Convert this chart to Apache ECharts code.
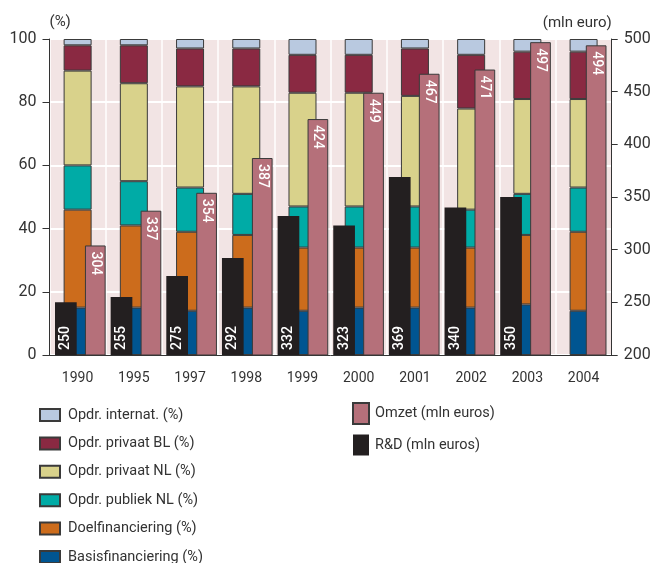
<!DOCTYPE html>
<html>
<head>
<meta charset="utf-8">
<script src="https://cdn.jsdelivr.net/npm/echarts@6/dist/echarts.min.js"></script>
<style>
  html, body { margin: 0; padding: 0; background: #ffffff; }
  #chart { width: 659px; height: 563px; }
</style>
</head>
<body>
<div id="chart"></div>
<script>
// Years on the category axis
var years = ['1990', '1995', '1997', '1998', '1999', '2000', '2001', '2002', '2003', '2004'];

// Funding shares (%), stacked from the bottom up
var basisfinanciering = [15, 15, 14, 15, 14, 15, 15, 15, 16, 14];
var doelfinanciering  = [31, 26, 25, 23, 20, 19, 19, 19, 22, 25];
var publiekNL         = [14, 14, 14, 13, 13, 13, 13, 12, 13, 14];
var privaatNL         = [30, 31, 32, 34, 36, 36, 35, 32, 30, 28];
var privaatBL         = [ 8, 12, 12, 12, 12, 12, 15, 17, 15, 15];
var internat          = [ 2,  2,  3,  3,  5,  5,  3,  5,  4,  4];

// Amounts in mln euro (right axis)
var omzet = [304, 337, 354, 387, 424, 449, 467, 471, 497, 494];
var rnd   = [250, 255, 275, 292, 332, 323, 369, 340, 350, null];

// Axis ticks
var pctTicks = { min: 0, max: 100, interval: 20 };
var euroTicks = { min: 200, max: 500, interval: 50 };

var FONT = 'Roboto';
var TEXT = '#333333';
var OUTLINE = '#3a3a3a';

function shareSeries(name, data, color) {
  return {
    name: name,
    type: 'bar',
    xAxisIndex: 0,
    yAxisIndex: 0,
    stack: 'share',
    barWidth: 28,
    data: data,
    itemStyle: { color: color, borderColor: OUTLINE, borderWidth: 1 }
  };
}

var chart = echarts.init(document.getElementById('chart'), null, { renderer: 'canvas' });

chart.setOption({
  animation: false,
  backgroundColor: '#ffffff',
  textStyle: { fontFamily: FONT },
  grid: [
    { left: 49.5, right: 47.3, top: 39, bottom: 208, show: true,
      backgroundColor: '#f2e4e4', borderWidth: 0, containLabel: false },
    { left: 52.5, right: 50, top: 39, bottom: 208, show: false, containLabel: false }
  ],
  xAxis: [
    {
      type: 'category', gridIndex: 0, data: years, boundaryGap: true,
      axisLine: { lineStyle: { color: TEXT, width: 1 } },
      axisTick: { show: false },
      axisLabel: { color: TEXT, fontSize: 14, margin: 16, fontFamily: FONT },
      splitLine: { show: true, lineStyle: { color: '#ffffff', width: 1.5 } }
    },
    {
      type: 'category', gridIndex: 1, data: years, boundaryGap: true, show: false
    }
  ],
  yAxis: [
    {
      type: 'value', gridIndex: 0, position: 'left',
      min: pctTicks.min, max: pctTicks.max, interval: pctTicks.interval,
      name: '(%)', nameLocation: 'end', nameGap: 17,
      nameTextStyle: { color: TEXT, fontSize: 15, align: 'left', verticalAlign: 'middle', fontFamily: FONT },
      axisLine: { show: true, lineStyle: { color: TEXT, width: 1 } },
      axisTick: { show: true, length: 7, lineStyle: { color: TEXT } },
      axisLabel: { color: TEXT, fontSize: 16, margin: 13, fontFamily: FONT },
      splitLine: { show: true, lineStyle: { color: '#ffffff', width: 2 } }
    },
    {
      type: 'value', gridIndex: 0, position: 'right',
      min: euroTicks.min, max: euroTicks.max, interval: euroTicks.interval,
      name: '(mln euro)', nameLocation: 'end', nameGap: 16,
      nameTextStyle: { color: TEXT, fontSize: 15, align: 'right', verticalAlign: 'middle', fontFamily: FONT },
      axisLine: { show: true, lineStyle: { color: TEXT, width: 1 } },
      axisTick: { show: true, length: 6, lineStyle: { color: TEXT } },
      axisLabel: { color: TEXT, fontSize: 16, margin: 12, fontFamily: FONT },
      splitLine: { show: false }
    },
    {
      type: 'value', gridIndex: 1,
      min: euroTicks.min, max: euroTicks.max, interval: euroTicks.interval,
      show: false, splitLine: { show: false }
    }
  ],
  legend: [
    {
      orient: 'vertical', left: 39, top: 407, height: 200, padding: 0,
      itemWidth: 20, itemHeight: 12, itemGap: 12.4,
      icon: 'rect', selectedMode: false,
      textStyle: { color: TEXT, fontSize: 14.5, lineHeight: 16, padding: [0, 0, 0, 3], fontFamily: FONT },
      data: ['Opdr. internat. (%)', 'Opdr. privaat BL (%)', 'Opdr. privaat NL (%)',
             'Opdr. publiek NL (%)', 'Doelfinanciering (%)', 'Basisfinanciering (%)']
    },
    {
      orient: 'vertical', left: 352, top: 402, height: 100, padding: 0,
      itemWidth: 16, itemHeight: 21, itemGap: 9.5,
      icon: 'rect', selectedMode: false,
      textStyle: { color: TEXT, fontSize: 14.5, lineHeight: 16, padding: [0, 0, 0, 1], fontFamily: FONT },
      data: ['Omzet (mln euros)', 'R&D (mln euros)']
    }
  ],
  series: [
    shareSeries('Basisfinanciering (%)', basisfinanciering, '#005591'),
    shareSeries('Doelfinanciering (%)', doelfinanciering, '#cc6c1c'),
    shareSeries('Opdr. publiek NL (%)', publiekNL, '#00aba6'),
    shareSeries('Opdr. privaat NL (%)', privaatNL, '#d9d28b'),
    shareSeries('Opdr. privaat BL (%)', privaatBL, '#8a2942'),
    shareSeries('Opdr. internat. (%)', internat, '#b9c9e0'),
    {
      name: 'R&D (mln euros)',
      type: 'bar', xAxisIndex: 1, yAxisIndex: 2,
      barWidth: 21.7,
      data: rnd,
      itemStyle: { color: '#231f20' },
      label: {
        show: true, position: 'insideBottom', distance: 5, rotate: 90,
        align: 'left', verticalAlign: 'middle',
        color: '#ffffff', fontSize: 14, fontWeight: 500, fontFamily: FONT
      }
    },
    {
      name: 'Omzet (mln euros)',
      type: 'bar', xAxisIndex: 1, yAxisIndex: 2,
      barWidth: 20.7, barGap: '38%',
      data: omzet,
      itemStyle: { color: '#b5707a', borderColor: OUTLINE, borderWidth: 1 },
      label: {
        show: true, position: 'insideTop', distance: 6, rotate: -90,
        align: 'left', verticalAlign: 'middle',
        color: '#ffffff', fontSize: 14, fontWeight: 500, fontFamily: FONT
      }
    }
  ]
});
</script>
</body>
</html>
